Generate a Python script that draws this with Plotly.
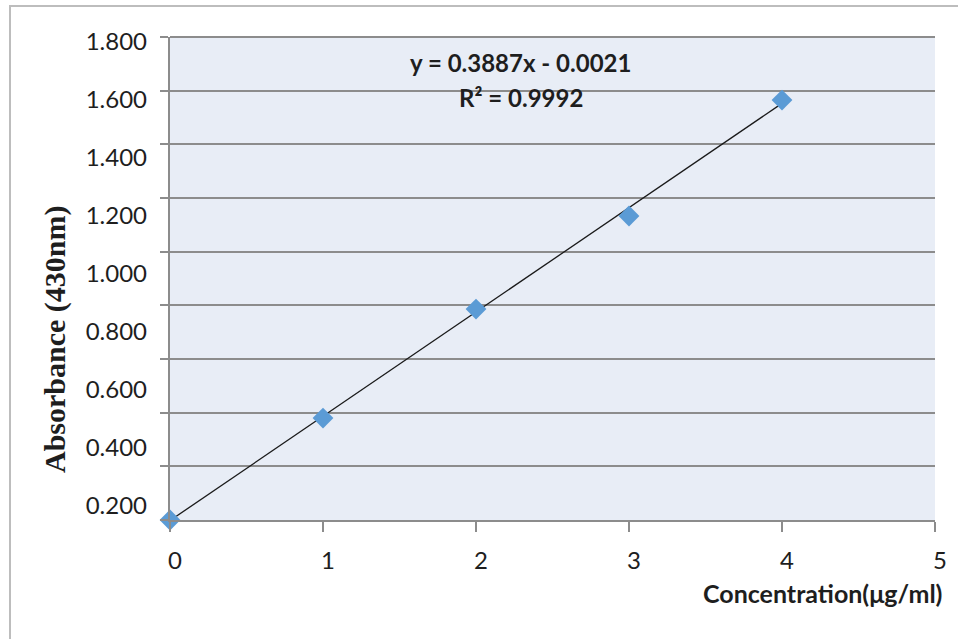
import plotly.graph_objects as go

# ---- data ----
concentration = [0, 1, 2, 3, 4]
absorbance = [0.000, 0.380, 0.786, 1.133, 1.565]
trend_slope = 0.3887
trend_intercept = -0.0021
trend_x = [0, 4]
x_ticks = [0, 1, 2, 3, 4, 5]
y_grid = [0.0, 0.2, 0.4, 0.6, 0.8, 1.0, 1.2, 1.4, 1.6, 1.8]
y_label_vals = [0.2, 0.4, 0.6, 0.8, 1.0, 1.2, 1.4, 1.6, 1.8]
y_label_text = ["0.200", "0.400", "0.600", "0.800", "1.000", "1.200", "1.400", "1.600", "1.800"]
equation_text = "y = 0.3887x - 0.0021"
r2_text = "R² = 0.9992"

W, H = 958, 639
L, R, T, B = 170, 23, 37, 119
pw, ph = W - L - R, H - T - B

def px(xp):
    return (xp - L) / pw

def py(yp):
    return (H - B - yp) / ph

sans = "Lato, 'Open Sans', sans-serif"
grid_col = "#8C8C8C"
text_col = "#1E1E1E"

fig = go.Figure()

fig.add_trace(go.Scatter(
    x=trend_x,
    y=[trend_slope * v + trend_intercept for v in trend_x],
    mode="lines", line=dict(color="#1A1A1A", width=1.3),
    showlegend=False, hoverinfo="skip",
))
fig.add_trace(go.Scatter(
    x=concentration, y=absorbance, mode="markers",
    marker=dict(symbol="diamond", size=16, color="#5B9BD5"),
    showlegend=False, cliponaxis=False,
))
# invisible trace to carry secondary y axis labels
fig.add_trace(go.Scatter(x=[None], y=[None], yaxis="y2", showlegend=False))

fig.update_layout(
    width=W, height=H,
    margin=dict(l=L, r=R, t=T, b=B),
    paper_bgcolor="white",
    plot_bgcolor="#E8EDF6",
    font=dict(family=sans, color=text_col),
    xaxis=dict(
        range=[0, 5], tickvals=x_ticks, ticktext=[str(v) for v in x_ticks],
        showgrid=False, zeroline=False,
        showline=True, linecolor=grid_col, linewidth=1.5,
        ticks="outside", ticklen=10, tickwidth=1.5, tickcolor=grid_col,
        tickfont=dict(size=24, family=sans, color=text_col),
        ticklabelshift=5, ticklabelstandoff=8,
        fixedrange=True,
    ),
    yaxis=dict(
        range=[0, 1.8], tickvals=y_grid, showticklabels=False,
        showgrid=True, gridcolor=grid_col, gridwidth=1.5,
        zeroline=False,
        showline=True, linecolor=grid_col, linewidth=1.5,
        ticks="outside", ticklen=8, tickwidth=1.5, tickcolor=grid_col,
        fixedrange=True,
    ),
    yaxis2=dict(
        overlaying="y", side="left", anchor="x",
        range=[0.15, 1.8155], tickvals=y_label_vals, ticktext=y_label_text,
        showgrid=False, zeroline=False, showline=False, ticks="",
        tickfont=dict(size=24, family=sans, color=text_col),
        ticklabelstandoff=22,
        fixedrange=True,
    ),
    shapes=[
        dict(type="line", xref="paper", yref="paper", x0=0, x1=1, y0=1, y1=1,
             line=dict(color=grid_col, width=2)),
        dict(type="rect", xref="paper", yref="paper",
             x0=px(10), x1=px(975), y0=py(6), y1=py(660),
             line=dict(color="#BDBDBD", width=2), layer="below"),
    ],
    annotations=[
        dict(text=equation_text, xref="paper", yref="paper",
             x=px(520), y=py(63), xanchor="center", yanchor="middle", showarrow=False,
             font=dict(size=24, family=sans, color=text_col, weight="bold")),
        dict(text=r2_text, xref="paper", yref="paper",
             x=px(521), y=py(97), xanchor="center", yanchor="middle", showarrow=False,
             font=dict(size=24, family=sans, color=text_col, weight="bold")),
        dict(text="Concentration(μg/ml)", xref="paper", yref="paper",
             x=px(944), y=py(593), xanchor="right", yanchor="middle", showarrow=False,
             font=dict(size=25, family=sans, color=text_col, weight="bold")),
        dict(text="Absorbance (430nm)", xref="paper", yref="paper",
             x=px(55), y=py(339), xanchor="center", yanchor="middle",
             textangle=-90, showarrow=False,
             font=dict(size=30, family="'Liberation Serif', 'Times New Roman', serif",
                       color=text_col, weight="bold")),
    ],
)

fig.write_html("out.html")
